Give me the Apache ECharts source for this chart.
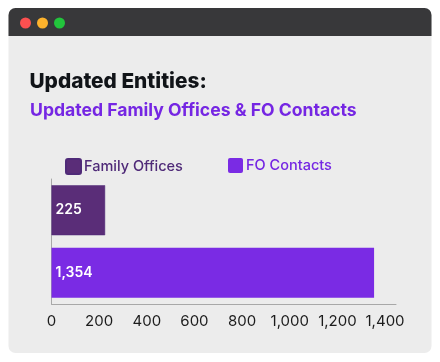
<!DOCTYPE html>
<html><head><meta charset="utf-8">
<style>html,body{margin:0;padding:0;background:#fff}#c{width:440px;height:362px}</style>
<script src="https://cdn.jsdelivr.net/npm/echarts@6/dist/echarts.min.js"></script>
</head><body><div id="c"></div>
<script>
const categories = ['Family Offices', 'FO Contacts'];
const familyOffices = [225, null];
const foContacts = [null, 1354];
const titleText = 'Updated Entities:';
const subtitleText = 'Updated Family Offices & FO Contacts';
const chart = echarts.init(document.getElementById('c'), null, {renderer:'canvas'});
const F = 'Inter';
const squareIcon = 'path://M2,0H13A2,2 0 0 1 15,2V13A2,2 0 0 1 13,15H2A2,2 0 0 1 0,13V2A2,2 0 0 1 2,0Z';
const lab = {show:true, position:'insideLeft', distance:4, color:'#fff', fontFamily:F, fontSize:14, fontWeight:600,
  formatter:p=>p.value.toLocaleString('en-US')};
chart.setOption({
  animation:false,
  backgroundColor:'#fff',
  title:[
    {text:titleText,left:29.5,top:71,padding:0,textStyle:{fontFamily:F,fontSize:20.8,fontWeight:800,color:'#111418'}},
    {text:subtitleText,left:30,top:101.5,padding:0,textStyle:{fontFamily:F,fontSize:17.6,fontWeight:700,color:'#7526e3'}}
  ],
  graphic:[
    {type:'rect',z:-10,shape:{x:8.5,y:8,width:423,height:345,r:7},style:{fill:'#ececec'}},
    {type:'rect',z:-9,shape:{x:8.5,y:8,width:423,height:28,r:[7,7,0,0]},style:{fill:'#38383a'}},
    {type:'circle',z:-8,shape:{cx:25.5,cy:23,r:5.5},style:{fill:'#fc5050'}},
    {type:'circle',z:-8,shape:{cx:42.5,cy:23,r:5.5},style:{fill:'#fdb22c'}},
    {type:'circle',z:-8,shape:{cx:59.5,cy:23,r:5.5},style:{fill:'#22c43c'}}
  ],
  legend:[
    {left:65,top:158,padding:0,itemWidth:15,itemHeight:15,itemGap:0,icon:squareIcon,
     data:[{name:categories[0],textStyle:{color:'#4f2a78'}}],
     textStyle:{fontFamily:F,fontSize:14.5,fontWeight:500,padding:[-1,0,0,-2]}},
    {left:228,top:158,padding:0,itemWidth:15,itemHeight:15,itemGap:0,icon:squareIcon,
     data:[{name:categories[1],textStyle:{color:'#7526e3'}}],
     textStyle:{fontFamily:F,fontSize:14.5,fontWeight:500,padding:[-1,0,0,-2]}}
  ],
  grid:{left:51.5,top:179,width:344.5,height:125,containLabel:false},
  xAxis:{type:'value',min:0,max:1446,interval:200,splitLine:{show:false},
    axisLine:{show:true,lineStyle:{color:'#a8a8a8',width:1}},axisTick:{show:false},
    axisLabel:{showMaxLabel:false,color:'#1c1c1c',fontFamily:F,fontSize:15,margin:10,
      formatter:v=>v.toLocaleString('en-US')}},
  yAxis:{type:'category',inverse:true,data:categories,
    axisLine:{show:true,onZero:false,lineStyle:{color:'#a8a8a8',width:1}},axisTick:{show:false},axisLabel:{show:false}},
  series:[
    {name:categories[0],type:'bar',stack:'a',barWidth:50,data:familyOffices,label:lab,
      itemStyle:{color:'#5a2d78',borderColor:'#4f2a78',borderWidth:0.5}},
    {name:categories[1],type:'bar',stack:'a',barWidth:50,data:foContacts,label:lab,
      itemStyle:{color:'#7a2be4'}}
  ]
});
</script></body></html>
